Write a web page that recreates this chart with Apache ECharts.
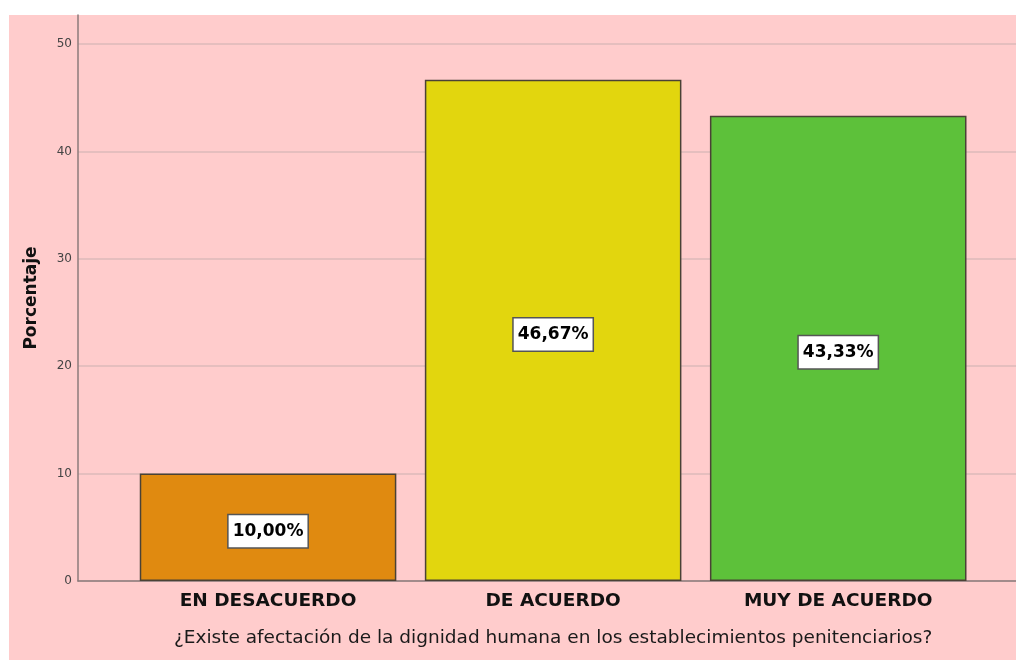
<!DOCTYPE html>
<html>
<head>
<meta charset="utf-8">
<title>Porcentaje</title>
<script src="https://cdn.jsdelivr.net/npm/echarts@6/dist/echarts.min.js"></script>
<style>
  html, body { margin: 0; padding: 0; background: #ffffff; }
  #chart { width: 1016px; height: 660px; }
</style>
</head>
<body>
<div id="chart"></div>
<script>
// datos del gráfico
const categorias = ['EN DESACUERDO', 'DE ACUERDO', 'MUY DE ACUERDO'];
const porcentajes = [10.00, 46.67, 43.33];
const colores = ['#e08a10', '#e2d60e', '#5dc13a'];
const yTicks = [0, 10, 20, 30, 40, 50];

const tituloX = '¿Existe afectación de la dignidad humana en los establecimientos penitenciarios?';
const tituloY = 'Porcentaje';

const Y_MAX = 52.7;

const chart = echarts.init(document.getElementById('chart'));

const option = {
    backgroundColor: '#ffffff',
    animation: false,
    graphic: [{
        type: 'rect',
        z: -100,
        shape: { x: 9, y: 15, width: 1007, height: 645 },
        style: { fill: '#ffcccc' },
        silent: true
    }],
    grid: [
        // grilla de las barras (con margen interno como en SPSS)
        { left: 125.5, right: 35.25, top: 15, bottom: 79 },
        // grilla de fondo: eje Y, líneas y eje X completo
        { left: 78, right: 0, top: 15, bottom: 79 }
    ],
    xAxis: [
        {
            gridIndex: 0,
            type: 'category',
            data: categorias,
            axisLine: { show: false },
            axisTick: { show: false },
            axisLabel: {
                margin: 11,
                color: '#111',
                fontFamily: 'DejaVu Sans',
                fontWeight: 'bold',
                fontSize: 18.5
            },
            name: tituloX,
            nameLocation: 'middle',
            nameGap: 48,
            nameTextStyle: {
                color: '#1a1a1a',
                fontFamily: 'DejaVu Sans',
                fontSize: 18.5
            }
        },
        {
            gridIndex: 1,
            type: 'value',
            min: 0,
            max: 1,
            axisLine: { show: true, lineStyle: { color: '#8c7b7b', width: 1.5 } },
            axisTick: { show: false },
            axisLabel: { show: false },
            splitLine: { show: false }
        }
    ],
    yAxis: [
        {
            gridIndex: 0,
            type: 'value',
            min: 0,
            max: Y_MAX,
            show: false
        },
        {
            gridIndex: 1,
            type: 'value',
            min: yTicks[0],
            max: Y_MAX,
            interval: 10,
            axisLine: { show: true, lineStyle: { color: '#8c7b7b', width: 1.5 } },
            axisTick: { show: false },
            axisLabel: {
                showMaxLabel: false,
                margin: 6,
                color: '#444',
                fontFamily: 'DejaVu Sans',
                fontSize: 12,
                formatter: v => yTicks.includes(v) ? String(v) : ''
            },
            splitLine: {
                show: true,
                showMaxLine: false,
                lineStyle: { color: '#dcbaba', width: 1.5 }
            },
            name: tituloY,
            nameLocation: 'middle',
            nameGap: 38,
            nameTextStyle: {
                color: '#111',
                fontFamily: 'DejaVu Sans',
                fontWeight: 'bold',
                fontSize: 17
            }
        }
    ],
    series: [{
        type: 'bar',
        xAxisIndex: 0,
        yAxisIndex: 0,
        barCategoryGap: '10%',
        data: porcentajes.map((v, i) => ({
            value: v,
            itemStyle: { color: colores[i] }
        })),
        itemStyle: {
            borderColor: '#4a4236',
            borderWidth: 1.5
        },
        label: {
            show: true,
            position: 'inside',
            offset: [0, 4],
            formatter: p => p.value.toFixed(2).replace('.', ',') + '%',
            color: '#000',
            fontFamily: 'DejaVu Sans',
            fontWeight: 'bold',
            fontSize: 17,
            backgroundColor: '#ffffff',
            borderColor: '#555',
            borderWidth: 1.5,
            padding: [8, 4, 7, 4]
        }
    }]
};

chart.setOption(option);
window.addEventListener('resize', () => chart.resize());
</script>
</body>
</html>
